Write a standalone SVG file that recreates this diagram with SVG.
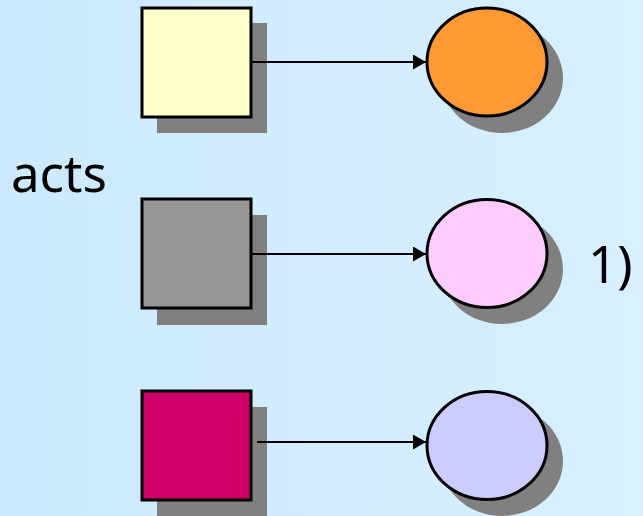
<svg xmlns="http://www.w3.org/2000/svg" width="643" height="516" viewBox="0 0 643 516">
<defs>
<linearGradient id="bg" x1="0" y1="0" x2="1" y2="0">
<stop offset="0" stop-color="#cce9ff"/>
<stop offset="1" stop-color="#d8f0ff"/>
</linearGradient>
<marker id="ah" viewBox="0 0 13 15" refX="13" refY="7.5" markerWidth="13" markerHeight="15" markerUnits="userSpaceOnUse" orient="auto">
<path d="M0,0 L13,7.5 L0,15 Z" fill="#000"/>
</marker>
<style>
.sh{fill:#808080;stroke:none}
.box{stroke:#000;stroke-width:3}
.ell{stroke:#000;stroke-width:3}
.conn{stroke:#000;stroke-width:2;fill:none;marker-end:url(#ah)}
.lbl{font-family:"Noto Sans","DejaVu Sans",sans-serif;font-size:51px;fill:#000}
</style>
</defs>
<rect width="643" height="516" fill="url(#bg)"/>
<g id="sq1">
<rect class="sh" x="157" y="23" width="110" height="110"/>
<rect class="box" x="142" y="8" width="109" height="109" fill="#ffffcc"/>
</g>
<g id="sq2">
<rect class="sh" x="157" y="215" width="110" height="110"/>
<rect class="box" x="142" y="199" width="109" height="109" fill="#969696"/>
</g>
<g id="sq3">
<rect class="sh" x="157" y="407" width="110" height="110"/>
<rect class="box" x="142" y="391" width="109" height="109" fill="#cc0066"/>
</g>
<g id="el1">
<ellipse class="sh" cx="502" cy="78" rx="61" ry="55"/>
<ellipse class="ell" cx="487" cy="62" rx="60" ry="54" fill="#ff9933"/>
</g>
<g id="el2">
<ellipse class="sh" cx="502" cy="269" rx="61" ry="55"/>
<ellipse class="ell" cx="487" cy="253.5" rx="60" ry="54" fill="#ffccff"/>
</g>
<g id="el3">
<ellipse class="sh" cx="502" cy="461" rx="61" ry="55"/>
<ellipse class="ell" cx="487" cy="445.5" rx="60" ry="54" fill="#ccccff"/>
</g>
<g id="connectors">
<line class="conn" x1="252" y1="62" x2="426" y2="62"/>
<line class="conn" x1="252" y1="254" x2="426" y2="254"/>
<line class="conn" x1="257" y1="442" x2="426" y2="442"/>
</g>
<text class="lbl" x="11" y="192">acts</text>
<text class="lbl" x="588" y="283">1)</text>
</svg>
